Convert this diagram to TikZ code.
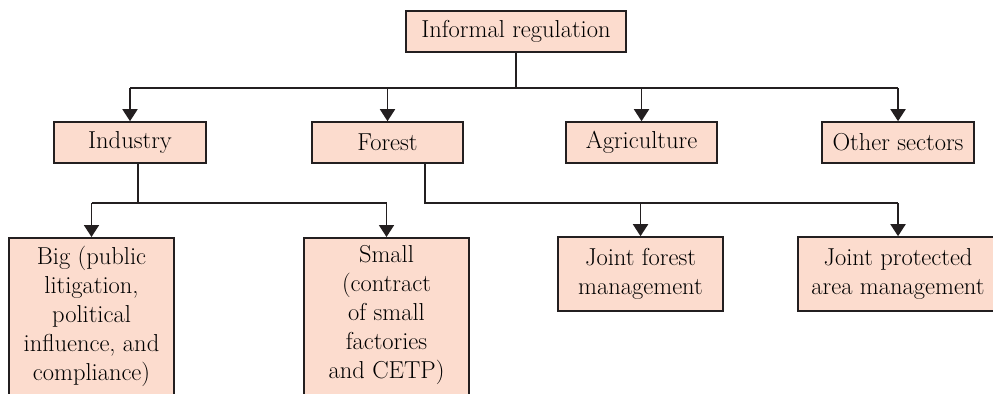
\documentclass[tikz,border=0pt]{standalone}
\usetikzlibrary{arrows.meta}
\definecolor{boxfill}{RGB}{252,220,206}
\definecolor{boxline}{RGB}{35,31,32}
\begin{document}
\begin{tikzpicture}[scale=0.35146,
  sector/.style={draw=boxline,fill=boxfill,line width=1.6pt,inner sep=0pt,minimum height=41pt,font=\fontsize{24.5}{29}\selectfont},
  leaf/.style={sector,align=center,minimum width=165pt},
  wire/.style={boxline,line width=1.8pt},
  feed/.style={wire,-{Triangle[width=15pt,length=12pt]}}]
\useasboundingbox (0,0) rectangle (99.3,-39.3);
\clip (0,0) rectangle (99.3,-39.3);
\node [sector,minimum width=220pt] (informal) at (51.6,-3.15) {Informal regulation};
\node [sector,minimum width=152pt] (industry) at (13.0,-14.25) {Industry};
\node [sector,minimum width=151pt] (forest) at (38.75,-14.25) {Forest};
\node [sector,minimum width=151pt] (agri) at (64.15,-14.25) {Agriculture};
\node [sector,minimum width=152pt] (other) at (89.8,-14.25) {Other sectors};
\node [leaf,anchor=north,inner ysep=8pt,text depth=30pt] (big) at (9.15,-23.7) {Big (public\\litigation,\\political\\influence, and\\compliance)};
\node [leaf,anchor=north,inner ysep=8pt,text depth=30pt] (small) at (38.65,-23.7) {Small\\(contract\\of small\\factories\\and CETP)};
\node [leaf,minimum height=74pt] (jfm) at (64.05,-27.4) {Joint forest\\management};
\node [leaf,minimum height=74pt,minimum width=200pt] (jpam) at (89.8,-27.4) {Joint protected\\area management};
\coordinate (bus0) at (51.4,-8.8);
\coordinate (bus1) at (13.8,-20.3);
\coordinate (istem) at (13.8,-16.3);
\coordinate (fstem) at (42.5,-16.3);
\draw [wire] (informal.south) -- (informal.south |- bus0);
\draw [wire] (industry.north |- bus0) -- (other.north |- bus0);
\draw [feed] (industry.north |- bus0) -- (industry.north);
\draw [feed] (forest.north |- bus0) -- (forest.north);
\draw [feed] (agri.north |- bus0) -- (agri.north);
\draw [feed] (other.north |- bus0) -- (other.north);
\draw [wire] (istem) -- (istem |- bus1);
\draw [wire] (big.north |- bus1) -- (small.north |- bus1);
\draw [feed] (big.north |- bus1) -- (big.north);
\draw [feed] (small.north |- bus1) -- (small.north);
\draw [wire] (fstem) -- (fstem |- bus1) -- (jpam.north |- bus1);
\draw [feed] (jfm.north |- bus1) -- (jfm.north);
\draw [feed] (jpam.north |- bus1) -- (jpam.north);
\end{tikzpicture}
\end{document}
